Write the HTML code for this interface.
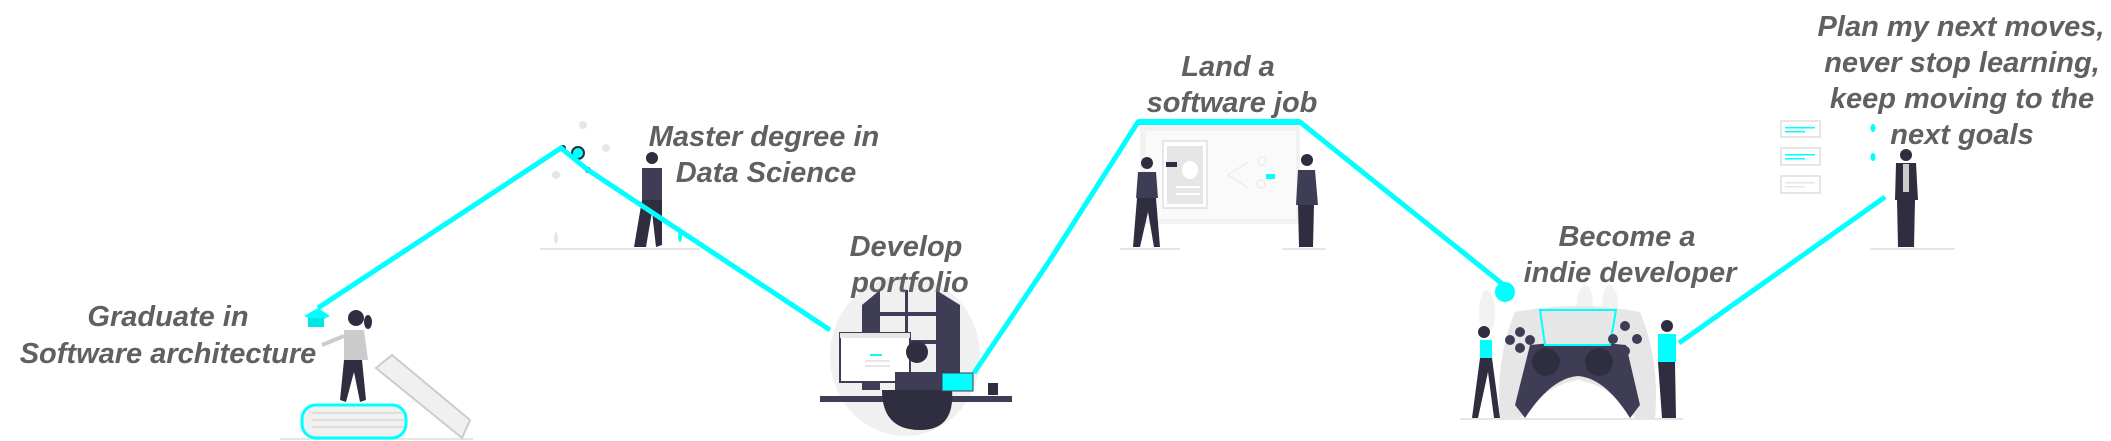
<!DOCTYPE html>
<html><head><meta charset="utf-8"><style>
html,body{margin:0;padding:0;background:#fff;}
svg{display:block;}
text{font-family:"Liberation Sans",sans-serif;font-weight:bold;font-style:italic;fill:#606060;font-size:29px;text-anchor:middle;}
</style></head><body>
<svg width="2111" height="441" viewBox="0 0 2111 441" xmlns="http://www.w3.org/2000/svg">
<g stroke="#e6e6e6" stroke-width="2">
<line x1="280" y1="439" x2="473" y2="439"/>
<line x1="540" y1="249" x2="700" y2="249"/>
<line x1="1120" y1="249" x2="1180" y2="249"/>
<line x1="1282" y1="249" x2="1326" y2="249"/>
<line x1="1460" y1="419" x2="1683" y2="419"/>
<line x1="1870" y1="249" x2="1955" y2="249"/>
</g>

<rect x="302" y="405" width="104" height="33" rx="14" fill="#f0f0f0" stroke="#00ffff" stroke-width="3"/>
<g stroke="#ccc" stroke-width="1"><line x1="312" y1="413" x2="404" y2="413"/><line x1="312" y1="420" x2="404" y2="420"/><line x1="312" y1="427" x2="404" y2="427"/></g>
<polygon points="376,368 392,355 470,420 462,438" fill="#f0f0f0" stroke="#ccc" stroke-width="2"/>
<circle cx="356" cy="318" r="8" fill="#2f2e41"/>
<ellipse cx="368" cy="322" rx="4" ry="7" fill="#2f2e41"/>
<path d="M344 330 L364 330 L368 360 L344 360 Z" fill="#ccc"/>
<line x1="344" y1="336" x2="322" y2="345" stroke="#ccc" stroke-width="4"/>
<path d="M344 360 L362 360 L366 400 L360 402 L354 372 L346 402 L340 400 Z" fill="#2f2e41"/>
<polygon points="304,316 318,308 330,316 318,322" fill="#00ffff"/>
<rect x="308" y="318" width="16" height="9" fill="#00e5e5"/>

<g fill="#e6e6e6"><circle cx="583" cy="125" r="4"/><circle cx="606" cy="148" r="4"/><circle cx="556" cy="175" r="4"/><ellipse cx="556" cy="238" rx="2" ry="6"/></g>
<circle cx="578" cy="153" r="6" fill="#00ffff" stroke="#2f2e41" stroke-width="2"/>
<circle cx="563" cy="148" r="3" fill="#2f2e41"/>
<circle cx="588" cy="170" r="3" fill="#2f2e41"/>
<circle cx="652" cy="158" r="6" fill="#2f2e41"/>
<path d="M642 168 L662 168 L662 200 L642 200 Z" fill="#3f3d56"/>
<path d="M642 200 L662 200 L662 245 L656 247 L652 212 L646 247 L634 247 Z" fill="#2f2e41"/>
<ellipse cx="680" cy="237" rx="2" ry="5" fill="#00ffff"/>

<ellipse cx="905" cy="356" rx="75" ry="80" fill="#f0f0f0"/>
<path d="M862 305 L880 290 L880 390 L862 390 Z" fill="#3f3d56"/>
<path d="M936 290 L960 305 L960 390 L936 390 Z" fill="#3f3d56"/>
<rect x="880" y="312" width="56" height="4" fill="#3f3d56"/>
<rect x="880" y="340" width="56" height="4" fill="#3f3d56"/>
<rect x="905" y="290" width="3" height="55" fill="#3f3d56"/>
<rect x="840" y="333" width="70" height="49" fill="#fff" stroke="#3f3d56" stroke-width="2"/>
<rect x="840" y="333" width="70" height="5" fill="#e6e6e6"/>
<rect x="870" y="354" width="12" height="2" fill="#00ffff"/>
<rect x="865" y="360" width="25" height="2" fill="#e6e6e6"/><rect x="865" y="365" width="25" height="2" fill="#e6e6e6"/>
<rect x="820" y="396" width="192" height="6" fill="#3f3d56"/>
<circle cx="917" cy="352" r="11" fill="#2f2e41"/>
<path d="M895 372 L940 372 L950 398 L895 398 Z" fill="#3f3d56"/>
<path d="M882 390 L952 390 Q955 430 920 430 Q882 430 882 390 Z" fill="#2f2e41"/>
<rect x="942" y="373" width="31" height="18" fill="#00ffff" stroke="#3f3d56" stroke-width="1"/>
<rect x="988" y="383" width="10" height="12" fill="#2f2e41"/>

<rect x="1140" y="126" width="160" height="98" fill="#f2f2f2"/>
<rect x="1146" y="131" width="150" height="88" fill="#fafafa"/>
<rect x="1163" y="141" width="44" height="67" fill="#fff" stroke="#e6e6e6" stroke-width="2"/>
<rect x="1167" y="146" width="36" height="58" fill="#e6e6e6"/>
<ellipse cx="1190" cy="170" rx="8" ry="9" fill="#fff"/>
<rect x="1176" y="186" width="24" height="2" fill="#fff"/><rect x="1176" y="193" width="24" height="2" fill="#fff"/>
<path d="M1248 162 L1228 175 L1248 188" fill="none" stroke="#e6e6e6" stroke-width="1"/>
<circle cx="1262" cy="161" r="4" fill="none" stroke="#e6e6e6"/><circle cx="1261" cy="184" r="4" fill="none" stroke="#e6e6e6"/>
<rect x="1266" y="174" width="9" height="5" fill="#00ffff"/>
<rect x="1166" y="162" width="11" height="5" fill="#2f2e41"/>
<circle cx="1147" cy="163" r="6" fill="#2f2e41"/>
<path d="M1138 172 L1156 172 L1158 198 L1136 198 Z" fill="#3f3d56"/>
<path d="M1137 198 L1156 198 L1160 247 L1154 247 L1148 212 L1140 247 L1133 247 Z" fill="#2f2e41"/>
<circle cx="1307" cy="160" r="6" fill="#2f2e41"/>
<path d="M1298 170 L1315 170 L1318 205 L1296 205 Z" fill="#3f3d56"/>
<path d="M1298 205 L1314 205 L1313 247 L1299 247 Z" fill="#2f2e41"/>

<ellipse cx="1487" cy="312" rx="8" ry="22" fill="#f2f2f2"/>
<ellipse cx="1585" cy="305" rx="8" ry="20" fill="#f2f2f2"/>
<ellipse cx="1610" cy="305" rx="8" ry="20" fill="#f2f2f2"/>
<path d="M1515 312 Q1578 300 1640 312 Q1660 360 1655 418 L1635 418 Q1610 385 1578 380 Q1546 385 1520 418 L1500 418 Q1495 360 1515 312 Z" fill="#e6e6e6"/>
<path d="M1530 345 Q1578 340 1626 345 L1640 405 L1630 418 Q1605 378 1578 376 Q1551 378 1525 418 L1515 405 Z" fill="#3f3d56"/>
<path d="M1540 310 L1616 310 L1610 345 L1545 345 Z" fill="#e6e6e6" stroke="#00ffff" stroke-width="2"/>
<circle cx="1546" cy="362" r="14" fill="#2f2e41"/><circle cx="1599" cy="362" r="14" fill="#2f2e41"/>
<g fill="#3f3d56"><circle cx="1520" cy="332" r="5"/><circle cx="1530" cy="340" r="5"/><circle cx="1520" cy="348" r="5"/><circle cx="1510" cy="340" r="5"/>
<circle cx="1625" cy="326" r="5"/><circle cx="1637" cy="339" r="5"/><circle cx="1625" cy="351" r="5"/><circle cx="1613" cy="339" r="5"/></g>
<circle cx="1505" cy="292" r="10" fill="#00ffff"/>
<circle cx="1484" cy="332" r="6" fill="#2f2e41"/>
<rect x="1480" y="340" width="12" height="18" fill="#00ffff"/>
<path d="M1480 358 L1492 358 L1500 418 L1494 418 L1488 372 L1478 418 L1472 418 Z" fill="#2f2e41"/>
<circle cx="1667" cy="326" r="6" fill="#2f2e41"/>
<rect x="1658" y="334" width="18" height="28" fill="#00ffff"/>
<path d="M1658 362 L1675 362 L1676 418 L1662 418 Z" fill="#2f2e41"/>

<g fill="#fff" stroke="#e6e6e6" stroke-width="2">
<rect x="1781" y="121" width="39" height="16"/><rect x="1781" y="148" width="39" height="17"/><rect x="1781" y="176" width="39" height="17"/></g>
<g fill="#00ffff"><rect x="1785" y="127" width="30" height="1.5"/><rect x="1785" y="131" width="20" height="1.5"/>
<rect x="1785" y="154" width="30" height="1.5"/><rect x="1785" y="158" width="20" height="1.5"/>
<ellipse cx="1873" cy="128" rx="2.5" ry="4"/><ellipse cx="1873" cy="157" rx="2.5" ry="4"/></g>
<rect x="1785" y="182" width="30" height="1.5" fill="#e6e6e6"/><rect x="1785" y="186" width="20" height="1.5" fill="#e6e6e6"/>
<circle cx="1906" cy="155" r="6" fill="#2f2e41"/>
<path d="M1896 163 L1916 163 L1918 200 L1895 200 Z" fill="#2f2e41"/>
<rect x="1903" y="164" width="6" height="28" fill="#ccc"/>
<path d="M1897 200 L1915 200 L1914 247 L1898 247 Z" fill="#2f2e41"/>

<polyline points="318,308 561,148 588,170 830,330" fill="none" stroke="#00ffff" stroke-width="5"/>
<polyline points="974,373 1050,260 1138,122 1300,122 1510,290" fill="none" stroke="#00ffff" stroke-width="5"/>
<line x1="1138" y1="122" x2="1300" y2="122" stroke="#00ffff" stroke-width="6"/>
<polyline points="1679,343 1885,197" fill="none" stroke="#00ffff" stroke-width="5"/>

<text x="168" y="326">Graduate in</text>
<text x="168" y="363">Software architecture</text>
<text x="764" y="146">Master degree in</text>
<text x="766" y="182">Data Science</text>
<text x="906" y="256">Develop</text>
<text x="910" y="292">portfolio</text>
<text x="1228" y="76">Land a</text>
<text x="1232" y="112">software job</text>
<text x="1627" y="246">Become a</text>
<text x="1630" y="282">indie developer</text>
<text x="1961" y="36">Plan my next moves,</text>
<text x="1962" y="72">never stop learning,</text>
<text x="1962" y="108">keep moving to the</text>
<text x="1962" y="144">next goals</text>
</svg>
</body></html>
